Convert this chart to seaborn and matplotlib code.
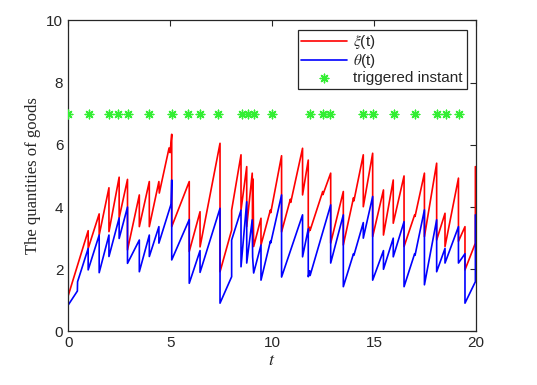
import numpy as np
import pandas as pd
import matplotlib
matplotlib.use("Agg")
import matplotlib.pyplot as plt
import seaborn as sns

# xi(t) vertices (t, value); repeated t = vertical jump
xi_t = [0, 0, 0.98, 0.98, 1.52, 1.52, 2.0, 2.0, 2.5, 2.5, 2.91, 2.91, 3.49, 3.49,
        3.98, 3.98, 4.45, 4.47, 4.95, 5.0, 5.08, 5.08, 5.94, 5.94, 6.47, 6.47,
        7.45, 7.45, 8.02, 8.02, 8.48, 8.48, 8.76, 8.76, 9.03, 9.05, 9.07, 9.1,
        9.46, 9.46, 9.92, 9.94, 10.47, 10.47, 10.9, 10.92, 11.5, 11.5, 11.78, 11.78,
        11.85, 11.87, 12.49, 12.5, 12.88, 12.88,
        13.5, 13.5, 14.0, 14.02, 14.48, 14.48, 14.94, 14.94, 15.47, 15.47, 15.95, 15.95,
        16.48, 16.48, 17.0, 17.02, 17.48, 17.48, 18.08, 18.08, 18.49, 18.49, 19.15, 19.15,
        19.47, 19.47, 19.98, 19.98]
xi_v = [2.2, 1.15, 3.24, 2.67, 3.78, 3.10, 4.62, 3.21, 4.96, 3.65, 4.89, 2.62, 4.39, 3.37,
        4.82, 3.37, 4.82, 4.45, 5.9, 5.75, 6.34, 3.37, 4.82, 2.57, 3.85, 2.72,
        6.05, 1.92, 3.26, 3.9, 5.68, 3.9, 5.3, 3.37, 5.09, 3.5, 4.9, 2.73,
        3.64, 2.78, 3.9, 3.82, 5.65, 3.2, 4.25, 4.15, 5.89, 4.39, 5.51, 3.16,
        3.35, 3.25, 4.5, 4.4, 5.09, 2.84,
        4.5, 2.78, 4.3, 4.2, 5.68, 4.01, 5.73, 3.05, 4.55, 3.1, 4.87, 3.48,
        5.0, 2.73, 3.75, 3.7, 5.09, 3.05, 5.41, 2.94, 3.8, 2.73, 4.93, 2.9,
        3.37, 1.98, 2.84, 5.3]

# theta(t) vertices
th_t = [0, 0, 0.45, 0.46, 0.98, 0.98, 1.52, 1.52, 2.0, 2.0, 2.5, 2.5, 2.91, 2.91,
        3.49, 3.49, 3.98, 3.98, 4.45, 4.45, 5.05, 5.08, 5.08, 5.94, 5.94, 6.47, 6.47,
        7.45, 7.45, 8.02, 8.02, 8.48, 8.48, 8.76, 8.76, 9.03, 9.05, 9.1,
        9.46, 9.46, 9.92, 9.94, 10.47, 10.47, 11.5, 11.5, 11.78, 11.78, 11.85, 11.87,
        12.88, 12.88, 13.5, 13.5, 14.0, 14.02, 14.48, 14.48, 14.94, 14.94,
        15.47, 15.47, 15.95, 15.95, 16.48, 16.48, 17.0, 17.02, 17.48, 17.48,
        18.08, 18.08, 18.49, 18.49, 19.15, 19.15, 19.47, 19.47, 19.98, 19.98]
th_v = [1.66, 0.85, 1.3, 1.6, 2.67, 1.98, 3.10, 1.89, 3.10, 2.41, 3.65, 2.99, 4.0, 2.19,
        2.94, 1.92, 3.10, 2.41, 3.37, 2.84, 4.1, 4.87, 2.3, 3.6, 1.55, 2.6, 1.9,
        3.96, 0.91, 1.76, 2.94, 3.9, 2.08, 4.17, 2.2, 3.59, 2.4, 1.88,
        2.78, 1.65, 2.9, 2.85, 4.39, 1.75, 3.75, 2.4, 3.3, 1.76, 1.95, 1.8,
        4.07, 2.2, 3.75, 1.44, 2.5, 2.45, 3.5, 3.0, 4.34, 1.65,
        2.6, 2.0, 3.0, 2.4, 3.53, 1.44, 2.5, 2.45, 3.91, 1.5,
        3.59, 1.92, 2.67, 2.2, 3.37, 2.2, 2.5, 0.91, 1.6, 3.75]

# triggered instants
trig_t = [0, 1.03, 2.0, 2.45, 2.91, 3.98, 5.08, 5.89, 6.47, 7.36, 8.51, 8.81, 9.13,
          10.02, 11.87, 12.49, 12.85, 14.48, 14.94, 16.0, 17.02, 18.09, 18.54, 19.2]
trig_level = 7

xi_df = pd.DataFrame({"t": xi_t, "v": xi_v})
th_df = pd.DataFrame({"t": th_t, "v": th_v})
trig_df = pd.DataFrame({"t": trig_t, "v": [trig_level] * len(trig_t)})

sns.set_style("white")
plt.rcParams["font.family"] = ["Liberation Sans", "DejaVu Sans"]
plt.rcParams["mathtext.fontset"] = "stix"

fig = plt.figure(figsize=(5.37, 3.85), dpi=100)
ax = fig.add_axes([0.127, 0.139, 0.759, 0.808])

sns.lineplot(data=xi_df, x="t", y="v", sort=False, estimator=None, color="#ff0000",
             lw=1.2, ax=ax, label=r"$\xi$(t)")
sns.lineplot(data=th_df, x="t", y="v", sort=False, estimator=None, color="#0000ff",
             lw=1.2, ax=ax, label=r"$\theta$(t)")
sns.scatterplot(data=trig_df, x="t", y="v", marker=(8, 2, 0), color="#33ee33", s=38,
                linewidth=1.0, edgecolor="#33ee33", ax=ax, label="triggered instant", zorder=3)

ax.set_xlim(0, 20)
ax.set_ylim(0, 10)
ax.set_xticks([0, 5, 10, 15, 20])
ax.set_yticks([0, 2, 4, 6, 8, 10])
ax.tick_params(direction="in", top=True, right=True, labelsize=11, colors="#262626",
               length=4, width=0.8)
for s in ax.spines.values():
    s.set_color("#262626")
    s.set_linewidth(0.9)
ax.set_xlabel("$t$", fontsize=13, fontfamily="Liberation Serif", labelpad=1)
ax.set_ylabel("The quantities of goods", fontsize=12, fontfamily="Liberation Serif", labelpad=4)

leg = ax.legend(loc="upper right", fontsize=11, frameon=True, fancybox=False,
                edgecolor="#262626", framealpha=1, borderpad=0.25, handlelength=3.0,
                handletextpad=0.4, labelspacing=0.05, borderaxespad=0.6)
leg.get_frame().set_linewidth(0.9)

fig.savefig("out.png", dpi=100)
